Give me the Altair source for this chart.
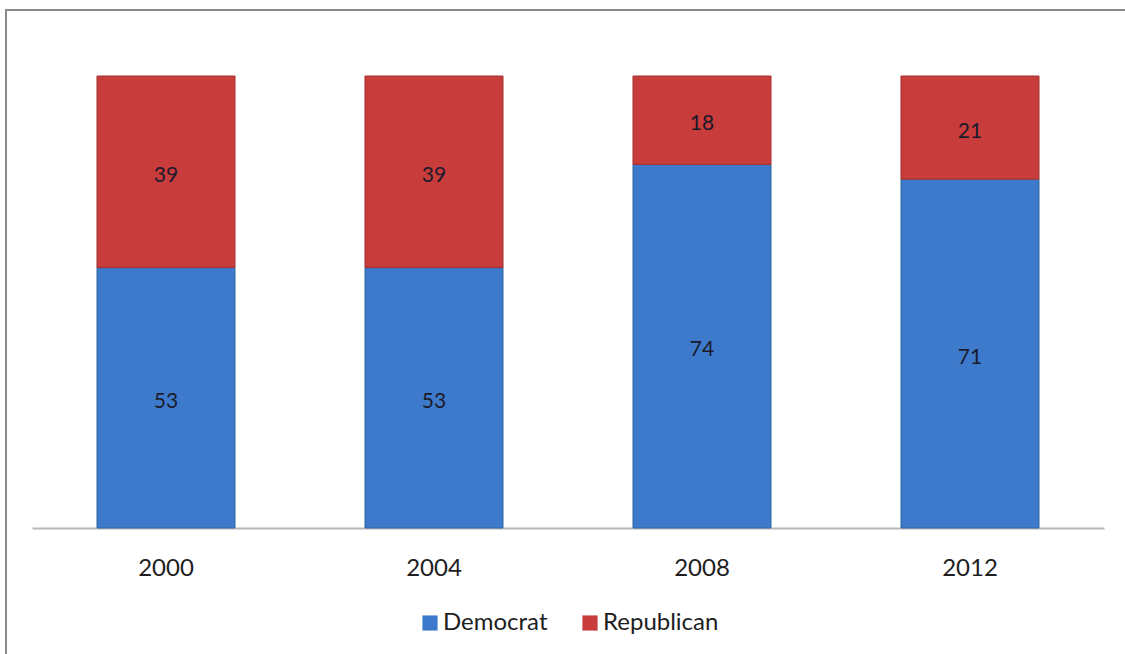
import altair as alt
import pandas as pd

years = ["2000", "2004", "2008", "2012"]
democrat = [53, 53, 74, 71]
republican = [39, 39, 18, 21]
parties = ["Democrat", "Republican"]
colors = ["#3d7acb", "#c93c3c"]

rows = []
for i, y in enumerate(years):
    rows.append({"year": y, "party": "Democrat", "value": democrat[i], "order": 0})
    rows.append({"year": y, "party": "Republican", "value": republican[i], "order": 1})
df = pd.DataFrame(rows)

base = alt.Chart(df).transform_stack(
    stack="value", as_=["y0", "y1"], groupby=["year"], sort=[alt.SortField("order")], offset="normalize"
).transform_calculate(mid="(datum.y0 + datum.y1) / 2")

x_enc = alt.X("year:N", sort=years, title=None,
              scale=alt.Scale(paddingInner=0.485, paddingOuter=0.2425),
              axis=alt.Axis(labelAngle=0, ticks=False, domainColor="#b8b8b8", domainWidth=2,
                            labelFont="Lato", labelFontSize=24, labelColor="#1e1e1e", labelPadding=28))
y_scale = alt.Scale(domain=[0, 1], nice=False)

bars = base.mark_bar(strokeWidth=1).encode(
    x=x_enc,
    y=alt.Y("y0:Q", scale=y_scale, axis=None),
    y2="y1:Q",
    color=alt.Color("party:N", sort=parties, scale=alt.Scale(domain=parties, range=colors),
                    legend=alt.Legend(title=None, orient="none", legendX=386, legendY=535,
                                      direction="horizontal", symbolType="square", symbolSize=230,
                                      symbolStrokeWidth=0, labelFont="Lato", labelFontSize=24,
                                      labelColor="#1e1e1e", columnPadding=30, labelOffset=1,
                                      padding=0)),
    stroke=alt.Stroke("party:N", scale=alt.Scale(domain=parties, range=["#34669f", "#a33030"]), legend=None),
)

labels = base.mark_text(font="Lato", fontSize=21, color="#1a1a2a", dy=4).encode(
    x=alt.X("year:N", sort=years),
    y=alt.Y("mid:Q", scale=y_scale),
    text="value:Q",
)

frame_df = pd.DataFrame({"k": [0]})
frame = alt.Chart(frame_df).mark_rect(fill=None, stroke="#8c8c8c", strokeWidth=2).encode(
    x=alt.value(-26), x2=alt.value(1200), y=alt.value(-66), y2=alt.value(700)
)

chart = alt.layer(frame, bars, labels).properties(
    width=1072, height=452,
    padding={"left": 32, "top": 76, "right": 21, "bottom": 126},
    autosize=alt.AutoSizeParams(type="none"),
).configure(background="white").configure_view(stroke=None)

chart.save("out.html", embed_options={"renderer": "svg", "actions": False})
